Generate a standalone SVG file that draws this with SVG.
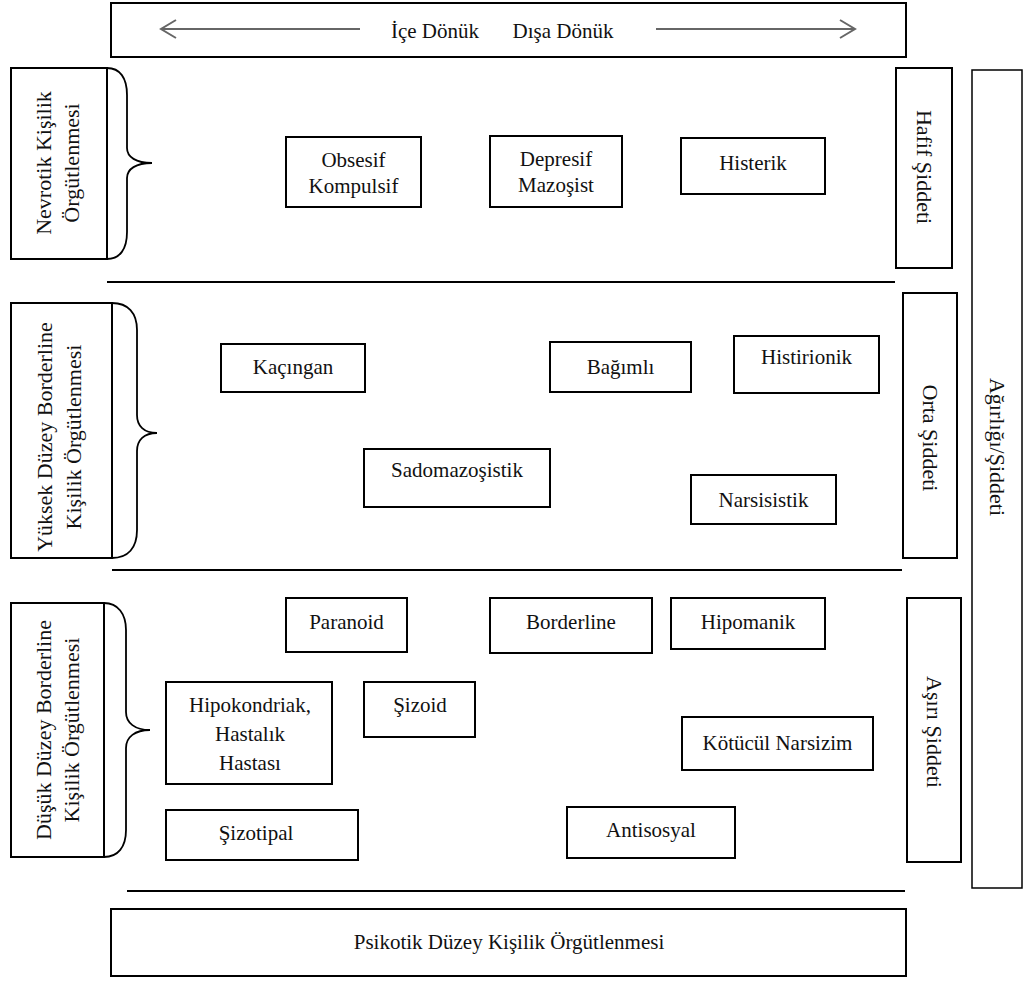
<svg xmlns="http://www.w3.org/2000/svg" width="1024" height="984" viewBox="0 0 1024 984">
<style>
.b{fill:#fff;stroke:#000;stroke-width:2}
.bt{fill:#fff;stroke:#000;stroke-width:1.5}
.t{font-family:"Liberation Serif","Times New Roman",serif;font-size:21px;fill:#111;text-anchor:middle}
.v{font-size:22px}
.ln{stroke:#000;stroke-width:2;fill:none}
.br{stroke:#000;stroke-width:1.8;fill:none}
.ar{stroke:#666;stroke-width:2;fill:none}
</style>
<rect width="1024" height="984" fill="#fff"/>

<g id="axis-top">
<rect class="b" x="111" y="3" width="795" height="54"/>
<text class="t" x="435" y="38">İçe Dönük</text>
<text class="t" x="563" y="38">Dışa Dönük</text>
</g>

<g id="connectors">
<path class="ar" d="M360,29 H162 M176,20 L161,29 L176,38"/>
<path class="ar" d="M656,29 H854 M840,20 L855,29 L840,38"/>
<line class="ln" x1="107" y1="282" x2="895" y2="282"/>
<line class="ln" x1="112" y1="570" x2="902" y2="570"/>
<line class="ln" x1="127" y1="891" x2="905" y2="891"/>
<path class="br" d="M107,68 C120,68 127,78 127,95 L127,148 C127,157 136,163 152,163 C136,163 127,169 127,178 L127,232 C127,249 120,259 107,259"/>
<path class="br" d="M112,303 C128,303 137,313 137,330 L137,415 C137,426 144,433 157,433 C144,433 137,440 137,451 L137,530 C137,548 128,558 112,558"/>
<path class="br" d="M104,603 C118,603 126,614 126,630 L126,712 C126,723 135,730 150,730 C135,730 126,737 126,748 L126,830 C126,847 118,857 104,857"/>
</g>

<g id="nevrotik">
<rect class="b" x="11" y="68" width="96" height="191"/>
<g transform="translate(58,163) rotate(-90)">
<text class="t v" x="0" y="-7">Nevrotik Kişilik</text>
<text class="t v" x="0" y="21">Örgütlenmesi</text>
</g>
</g>
<g id="yuksek">
<rect class="b" x="11" y="303" width="101" height="255"/>
<g transform="translate(59,437) rotate(-90)">
<text class="t v" x="0" y="-7">Yüksek Düzey Borderline</text>
<text class="t v" x="0" y="22">Kişilik Örgütlenmesi</text>
</g>
</g>
<g id="dusuk">
<rect class="b" x="11" y="603" width="93" height="254"/>
<g transform="translate(58,730) rotate(-90)">
<text class="t v" x="0" y="-7">Düşük Düzey Borderline</text>
<text class="t v" x="0" y="21">Kişilik Örgütlenmesi</text>
</g>
</g>

<g id="hafif">
<rect class="b" x="896" y="68" width="56" height="200"/>
<text class="t v" transform="translate(924,167) rotate(90)" x="0" y="7">Hafif Şiddeti</text>
</g>
<g id="orta">
<rect class="b" x="903" y="293" width="54" height="265"/>
<text class="t v" transform="translate(930,438) rotate(90)" x="0" y="7">Orta Şiddeti</text>
</g>
<g id="asiri">
<rect class="b" x="907" y="598" width="54" height="264"/>
<text class="t v" transform="translate(934,732) rotate(90)" x="0" y="7">Aşırı Şiddeti</text>
</g>
<g id="agirlik">
<rect class="bt" x="972" y="70" width="50" height="818"/>
<text class="t v" transform="translate(997,447) rotate(90)" x="0" y="7">Ağırlığı/Şiddeti</text>
</g>

<g id="obsesif"><rect class="b" x="286" y="137" width="135" height="70"/><text class="t" x="353.5" y="167">Obsesif</text><text class="t" x="353.5" y="193">Kompulsif</text></g>
<g id="depresif"><rect class="b" x="490" y="136" width="132" height="71"/><text class="t" x="556" y="166">Depresif</text><text class="t" x="556" y="192">Mazoşist</text></g>
<g id="histerik"><rect class="b" x="681" y="138" width="144" height="56"/><text class="t" x="753" y="170">Histerik</text></g>

<g id="kacingan"><rect class="b" x="221" y="344" width="144" height="48"/><text class="t" x="293" y="374">Kaçıngan</text></g>
<g id="bagimli"><rect class="b" x="550" y="342" width="141" height="50"/><text class="t" x="620.5" y="374">Bağımlı</text></g>
<g id="histirionik"><rect class="b" x="734" y="336" width="145" height="57"/><text class="t" x="806.5" y="364">Histirionik</text></g>
<g id="sadomazosistik"><rect class="b" x="364" y="449" width="186" height="58"/><text class="t" x="457" y="477">Sadomazoşistik</text></g>
<g id="narsisistik"><rect class="b" x="691" y="475" width="145" height="49"/><text class="t" x="763.5" y="507">Narsisistik</text></g>

<g id="paranoid"><rect class="b" x="286" y="598" width="121" height="54"/><text class="t" x="346.5" y="629">Paranoid</text></g>
<g id="borderline"><rect class="b" x="490" y="598" width="162" height="55"/><text class="t" x="571" y="629">Borderline</text></g>
<g id="hipomanik"><rect class="b" x="671" y="598" width="154" height="51"/><text class="t" x="748" y="629">Hipomanik</text></g>
<g id="hipokondriak"><rect class="b" x="166" y="682" width="166" height="102"/><text class="t" x="250" y="712">Hipokondriak,</text><text class="t" x="250" y="741">Hastalık</text><text class="t" x="250" y="770">Hastası</text></g>
<g id="sizoid"><rect class="b" x="364" y="682" width="111" height="55"/><text class="t" x="420" y="712">Şizoid</text></g>
<g id="kotucul"><rect class="b" x="682" y="717" width="191" height="53"/><text class="t" x="777.5" y="750">Kötücül Narsizim</text></g>
<g id="sizotipal"><rect class="b" x="166" y="810" width="192" height="50"/><text class="t" x="256" y="840">Şizotipal</text></g>
<g id="antisosyal"><rect class="b" x="567" y="807" width="168" height="51"/><text class="t" x="651" y="837">Antisosyal</text></g>

<g id="psikotik"><rect class="b" x="111" y="909" width="795" height="67"/><text class="t" x="509" y="949">Psikotik Düzey Kişilik Örgütlenmesi</text></g>
</svg>
